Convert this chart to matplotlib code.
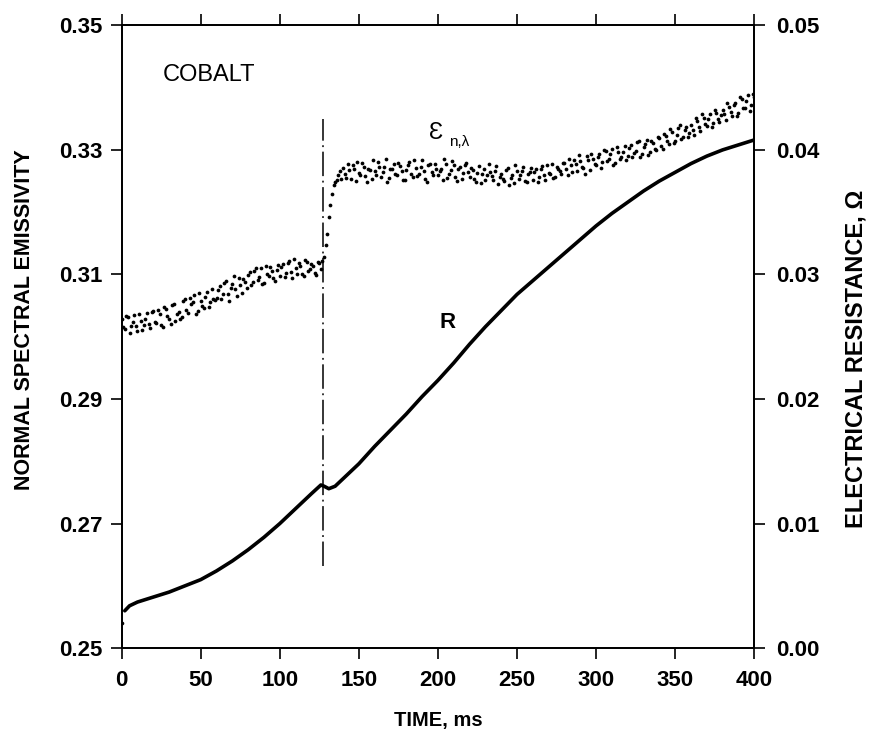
import numpy as np
import matplotlib
matplotlib.use("Agg")
import matplotlib.pyplot as plt

plt.rcParams['font.family'] = ['Liberation Sans', 'DejaVu Sans']

# ---------------- data ----------------
# Electrical resistance R (ohm) vs time (ms)
r_time = [0, 2, 5, 10, 20, 30, 40, 50, 60, 70, 80, 90, 100, 110, 120, 126, 128,
          131, 135, 140, 150, 160, 170, 180, 190, 200, 210, 220, 230, 240, 250,
          260, 270, 280, 290, 300, 310, 320, 330, 340, 350, 360, 370, 380, 390, 400]
r_value = [0.0020, 0.0030, 0.0034, 0.0037, 0.0041, 0.0045, 0.0050, 0.0055, 0.0062,
           0.0070, 0.0079, 0.0089, 0.0100, 0.0112, 0.0124, 0.0131, 0.0130, 0.0128,
           0.0130, 0.0136, 0.0148, 0.0162, 0.0175, 0.0188, 0.0202, 0.0215, 0.0229,
           0.0244, 0.0258, 0.0271, 0.0284, 0.0295, 0.0306, 0.0317, 0.0328, 0.0339,
           0.0349, 0.0358, 0.0367, 0.0375, 0.0382, 0.0389, 0.0395, 0.0400, 0.0404,
           0.0408]

# Normal spectral emissivity samples (x 1e-4), trace A at t = 0,2,...,400 ms
eps_time_a = np.arange(0, 401, 2)
eps_a = [
    3028, 3012, 3031, 3017, 3035, 3009, 3026, 3019, 3038, 3014,
    3041, 3022, 3036, 3015, 3044, 3028, 3051, 3025, 3039, 3031,
    3060, 3038, 3052, 3067, 3041, 3058, 3046, 3072, 3055, 3061,
    3062, 3081, 3069, 3090, 3058, 3084, 3077, 3095, 3071, 3088,
    3099, 3083, 3105, 3091, 3110, 3086, 3101, 3112, 3094, 3107,
    3098, 3116, 3103, 3121, 3095, 3110, 3118, 3100, 3124, 3106,
    3117, 3102, 3120, 3109, 3128, 3165, 3212, 3243, 3251, 3266,
    3271, 3255, 3268, 3276, 3250, 3263, 3279, 3258, 3270, 3254,
    3266, 3281, 3257, 3272, 3249, 3269, 3277, 3260, 3274, 3252,
    3268, 3280, 3256, 3271, 3262, 3283, 3253, 3275, 3264, 3278,
    3259, 3270, 3285, 3255, 3267, 3276, 3250, 3272, 3263, 3279,
    3256, 3268, 3249, 3274, 3261, 3252, 3277, 3258, 3266, 3245,
    3262, 3250, 3271, 3255, 3247, 3266, 3259, 3273, 3248, 3264,
    3252, 3269, 3257, 3274, 3251, 3263, 3278, 3256, 3270, 3261,
    3279, 3260, 3275, 3284, 3266, 3282, 3271, 3290, 3268, 3286,
    3276, 3294, 3280, 3298, 3285, 3302, 3279, 3297, 3288, 3306,
    3290, 3308, 3295, 3312, 3289, 3304, 3316, 3297, 3311, 3300,
    3319, 3302, 3322, 3310, 3329, 3314, 3335, 3318, 3332, 3321,
    3340, 3324, 3346, 3331, 3352, 3338, 3357, 3343, 3360, 3345,
    3364, 3348, 3369, 3355, 3375, 3360, 3381, 3367, 3388, 3372,
    3385]
# trace B at t = 1,3,...,399 ms
eps_time_b = np.arange(1, 400, 2)
eps_b = [
    3015, 3033, 3006, 3024, 3018, 3037, 3011, 3029, 3021, 3040,
    3024, 3043, 3019, 3048, 3034, 3020, 3053, 3037, 3029, 3057,
    3043, 3062, 3055, 3036, 3070, 3050, 3064, 3048, 3076, 3059,
    3075, 3060, 3086, 3068, 3079, 3097, 3066, 3083, 3092, 3078,
    3104, 3088, 3110, 3096, 3085, 3113, 3098, 3106, 3090, 3115,
    3112, 3096, 3119, 3104, 3125, 3101, 3114, 3097, 3120, 3108,
    3113, 3099, 3118, 3121, 3148, 3192, 3229, 3248, 3259, 3254,
    3262, 3277, 3253, 3269, 3281, 3260, 3272, 3248, 3267, 3283,
    3259, 3273, 3264, 3286, 3255, 3270, 3261, 3279, 3266, 3251,
    3275, 3262, 3284, 3258, 3273, 3266, 3249, 3277, 3260, 3270,
    3266, 3252, 3278, 3261, 3282, 3257, 3269, 3254, 3276, 3265,
    3271, 3253, 3263, 3247, 3270, 3259, 3265, 3251, 3274, 3256,
    3253, 3268, 3244, 3260, 3276, 3254, 3266, 3250, 3262, 3271,
    3265, 3248, 3270, 3259, 3275, 3262, 3255, 3272, 3266, 3279,
    3270, 3285, 3264, 3277, 3291, 3273, 3262, 3284, 3294, 3277,
    3289, 3271, 3300, 3282, 3293, 3276, 3305, 3286, 3296, 3283,
    3303, 3288, 3298, 3315, 3294, 3309, 3291, 3314, 3302, 3320,
    3306, 3326, 3315, 3333, 3311, 3324, 3340, 3320, 3337, 3327,
    3332, 3351, 3336, 3358, 3341, 3350, 3336, 3364, 3349, 3356,
    3358, 3376, 3361, 3372, 3354, 3385, 3368, 3379, 3363, 3390]

transition_time = 127.5
transition_span = (0.2632, 0.3350)

x_ticks = [0, 50, 100, 150, 200, 250, 300, 350, 400]
eps_ticks = [0.25, 0.27, 0.29, 0.31, 0.33, 0.35]
r_ticks = [0.00, 0.01, 0.02, 0.03, 0.04, 0.05]

# ---------------- figure ----------------
fig = plt.figure(figsize=(8.75, 7.45), dpi=100)
ax = fig.add_axes([0.139, 0.130, 0.723, 0.836])
ax2 = ax.twinx()

eps_all_t = np.concatenate([eps_time_a, eps_time_b])
eps_all = np.concatenate([np.array(eps_a), np.array(eps_b)]) * 1e-4
ax.plot(eps_all_t, eps_all, linestyle='none', marker='o', markersize=2.7,
        markeredgewidth=0, color='black')

ax.plot([transition_time, transition_time], transition_span, color='black',
        linewidth=1.1, dashes=[16, 3, 1.2, 3])

ax2.plot(r_time[1:], r_value[1:], color='black', linewidth=2.6,
         solid_capstyle='round', solid_joinstyle='round')
ax2.plot(r_time[:1], r_value[:1], linestyle='none', marker='o',
         markersize=2.6, markeredgewidth=0, color='black')

ax.set_xlim(0, 400)
ax.set_ylim(0.25, 0.35)
ax2.set_ylim(0.0, 0.05)
ax.set_xticks(x_ticks)
ax.set_yticks(eps_ticks)
ax2.set_yticks(r_ticks)
ax.set_yticklabels([f'{v:.2f}' for v in eps_ticks])
ax2.set_yticklabels([f'{v:.2f}' for v in r_ticks])
ax.set_xticklabels([str(v) for v in x_ticks])

for a in (ax, ax2):
    for s in a.spines.values():
        s.set_linewidth(1.3)
ax.tick_params(axis='both', direction='out', length=8, width=1.2,
               labelsize=16, top=True)
ax.tick_params(axis='y', pad=6)
ax.tick_params(axis='x', pad=8)
ax2.tick_params(axis='y', direction='out', length=8, width=1.2,
                labelsize=16, pad=8)
for lab in ax.get_xticklabels() + ax.get_yticklabels() + ax2.get_yticklabels():
    lab.set_fontweight('bold')

ax.set_xlabel('TIME, ms', fontsize=14.5, fontweight='bold', labelpad=14)
ax.set_ylabel('NORMAL SPECTRAL EMISSIVITY', fontsize=15.5, fontweight='bold')
ax.yaxis.set_label_coords(-0.137, 0.528)
ax2.set_ylabel('ELECTRICAL RESISTANCE, Ω', fontsize=17, fontweight='bold')
ax2.yaxis.set_label_coords(1.143, 0.465)

ax.text(26, 0.342, 'COBALT', fontsize=17, va='center', ha='left')
ax.text(194.5, 0.3327, 'Ɛ', fontsize=17, va='center', ha='left')
ax.text(207, 0.3313, 'n,λ', fontsize=11, va='center', ha='left')
ax.text(201, 0.3023, 'R', fontsize=16, fontweight='bold', va='center',
        ha='left')

fig.savefig('out.png', dpi=100)
